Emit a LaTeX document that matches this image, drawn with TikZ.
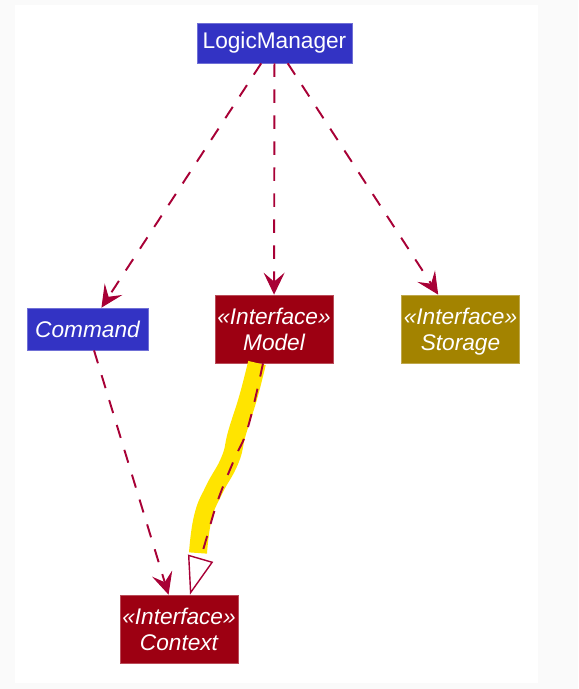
\documentclass[tikz,border=0pt]{standalone}
\usepackage{fontspec}
\setsansfont{Liberation Sans}
\definecolor{logicblue}{RGB}{51,51,196}
\definecolor{modelred}{RGB}{157,0,18}
\definecolor{storagegold}{RGB}{163,131,0}
\definecolor{arrowred}{RGB}{168,0,54}
\definecolor{markyellow}{RGB}{255,228,0}
\definecolor{pagegrey}{RGB}{250,250,250}
\usetikzlibrary{arrows.meta}
\newcommand{\boxfont}{\sffamily\fontsize{12.9}{14.8}\selectfont}

\begin{document}
\begin{tikzpicture}[x=0.02cm, y=-0.02cm, font=\boxfont,
    box/.style={text=white, draw=#1!70!white, fill=#1, line width=0.4pt,
      inner sep=0pt, minimum width=2.36cm, minimum height=1.36cm, align=center},
    ital/.style={font=\boxfont\itshape},
    dep/.style={arrowred, line width=1.1pt, dash pattern=on 0.27cm off 0.25cm,
      -{Stealth[length=0.44cm, width=0.42cm, inset=0.18cm, line width=0.6pt]}},
    real/.style={arrowred, line width=1.1pt, dash pattern=on 0.27cm off 0.25cm,
      -{Triangle[length=0.76cm, width=0.52cm, fill=white, line width=0.8pt]}}]
        % page
        \fill[pagegrey] (0,0) rectangle (578,689);
        \fill[white] (15,5) rectangle (538,683);
        % classes
        \node[box=logicblue, minimum width=3.1cm, minimum height=0.8cm]
          (LogicManager) at (274.5,43) {LogicManager};
        \node[box=logicblue, ital, minimum width=2.42cm, minimum height=0.84cm]
          (Command) at (87.5,329) {Command};
        \node[box=modelred, ital] (Model) at (274,329) {«Interface»\\Model};
        \node[box=storagegold, ital] (Storage) at (460.5,329)
          {«Interface»\\\smash{Storage}};
        \node[box=modelred, ital] (Context) at (179,629) {«Interface»\\Context};
        % highlight
        \draw[markyellow, line width=0.36cm, line join=round]
          plot[smooth, tension=0.8] coordinates
          {(257,363) (248,398) (237,433) (230,460) (214,490) (203,517) (198,553)};
        % dependencies
        \draw[dep] (LogicManager) -- (Command);
        \draw[dep] (LogicManager) -- (Model);
        \draw[dep] (LogicManager) -- (Storage);
        \draw[dep] (Command) -- (Context);
        \draw[real] plot[smooth, tension=0.7] coordinates
          {([xshift=-0.22cm]Model.south) (248,427) (234,460) (218,500) (206,540)
           ([xshift=0.22cm]Context.north)};
      \end{tikzpicture}
\end{document}
